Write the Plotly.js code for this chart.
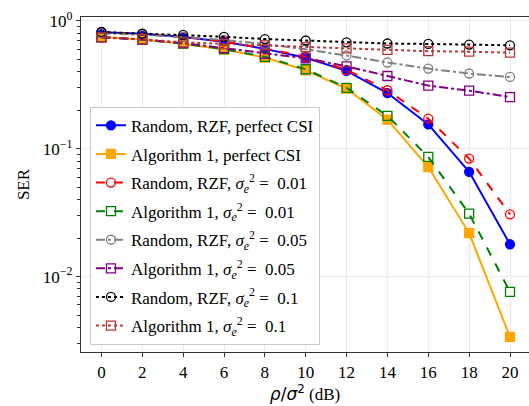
<!DOCTYPE html>
<html>
<head>
<meta charset="utf-8">
<script src="https://cdn.plot.ly/plotly-3.0.1.min.js"></script>
<style>html,body{margin:0;padding:0;background:#fff;overflow:hidden;}</style>
</head>
<body>
<div id="chart" style="width:529px;height:406px;"></div>
<script>
const snr = [0, 2, 4, 6, 8, 10, 12, 14, 16, 18, 20];
const randPerfect = [0.816, 0.793, 0.748, 0.688, 0.605, 0.515, 0.407, 0.273, 0.155, 0.066, 0.0179];
const algPerfect  = [0.748, 0.715, 0.664, 0.598, 0.517, 0.411, 0.296, 0.169, 0.072, 0.0219, 0.00337];
const rand001     = [0.812, 0.790, 0.750, 0.692, 0.610, 0.525, 0.415, 0.287, 0.172, 0.0838, 0.0307];
const alg001      = [0.748, 0.715, 0.664, 0.603, 0.524, 0.419, 0.300, 0.181, 0.0863, 0.0311, 0.0076];
const rand005     = [0.800, 0.780, 0.750, 0.710, 0.660, 0.600, 0.537, 0.473, 0.424, 0.388, 0.365];
const alg005      = [0.745, 0.715, 0.672, 0.612, 0.553, 0.510, 0.442, 0.371, 0.312, 0.285, 0.254];
const rand01      = [0.820, 0.797, 0.777, 0.752, 0.722, 0.703, 0.681, 0.666, 0.661, 0.654, 0.645];
const alg01       = [0.745, 0.720, 0.680, 0.660, 0.645, 0.625, 0.610, 0.595, 0.580, 0.575, 0.565];
const xTicks = [0, 2, 4, 6, 8, 10, 12, 14, 16, 18, 20];
const yTickVals = [1, 0.1, 0.01];
const yTickText = ['10<sup>0</sup>', '10<sup>\u22121</sup>', '10<sup>\u22122</sup>'];

const sig = '<i>σ</i><sub><i>e</i></sub><sup>2</sup>';
const names = [
  'Random, RZF, perfect CSI',
  'Algorithm 1, perfect CSI',
  'Random, RZF, ' + sig + ' =  0.01',
  'Algorithm 1, ' + sig + ' =  0.01',
  'Random, RZF, ' + sig + ' =  0.05',
  'Algorithm 1, ' + sig + ' =  0.05',
  'Random, RZF, ' + sig + ' =  0.1',
  'Algorithm 1, ' + sig + ' =  0.1'
];
const series = [randPerfect, algPerfect, rand001, alg001, rand005, alg005, rand01, alg01];
const colors = ['#0000ff', '#ffa500', '#ff0000', '#008000', '#808080', '#800080', '#000000', '#b03a3a'];
const dashes = ['solid', 'solid', 'dash', 'dash', 'dashdot', 'dashdot', 'dot', 'dot'];
const symbols = ['circle', 'square', 'circle-open', 'square-open', 'circle-open', 'square-open', 'circle-open', 'square-open'];

const traces = series.map((s, i) => ({
  x: snr, y: s, name: names[i], type: 'scatter', mode: 'lines+markers',
  legendgroup: 'g' + i,
  line: {color: colors[i], width: 2, dash: dashes[i]},
  marker: {symbol: symbols[i], size: 9, color: colors[i], line: {color: colors[i], width: 1.3}}
}));

const layout = {
  width: 529, height: 406,
  margin: {l: 81, r: 0, t: 17, b: 54},
  paper_bgcolor: '#fff', plot_bgcolor: '#fff',
  font: {family: 'Liberation Serif, Times New Roman, serif', size: 17, color: '#000'},
  showlegend: true,
  legend: {
    x: 0.02, y: 0.732, xanchor: 'left', yanchor: 'top',
    bgcolor: 'rgba(255,255,255,0.85)', bordercolor: '#cccccc', borderwidth: 1,
    font: {family: 'Liberation Serif, serif', size: 17, color: '#000'},
    traceorder: 'grouped', tracegroupgap: 3.5
  },
  xaxis: {
    range: [-1, 20.93], tickvals: xTicks, ticktext: xTicks.map(String),
    ticks: 'outside', ticklen: 4, tickwidth: 1, tickcolor: '#333',
    showline: true, linecolor: '#333', linewidth: 1.2, mirror: true,
    showgrid: true, gridcolor: '#ebebeb', gridwidth: 1, zeroline: false,
    tickfont: {size: 17},
    title: {text: '<span style="font-family:DejaVu Sans"><i>ρ</i>/<i>σ</i><sup>2</sup></span> (dB)', font: {size: 17}, standoff: 6}
  },
  yaxis: {
    type: 'log', range: [-2.59, 0.031],
    tickvals: yTickVals, ticktext: yTickText,
    ticks: 'outside', ticklen: 4, tickwidth: 1, tickcolor: '#333',
    minor: {ticks: 'outside', ticklen: 2.5, tickcolor: '#333', dtick: 'D1', showgrid: false},
    showline: true, linecolor: '#333', linewidth: 1.2, mirror: true,
    showgrid: true, gridcolor: '#ebebeb', gridwidth: 1, zeroline: false,
    tickfont: {size: 17},
    title: {text: 'SER', font: {size: 17}, standoff: 8}
  }
};

Plotly.newPlot('chart', traces, layout, {staticPlot: true, displayModeBar: false});
</script>
</body>
</html>
